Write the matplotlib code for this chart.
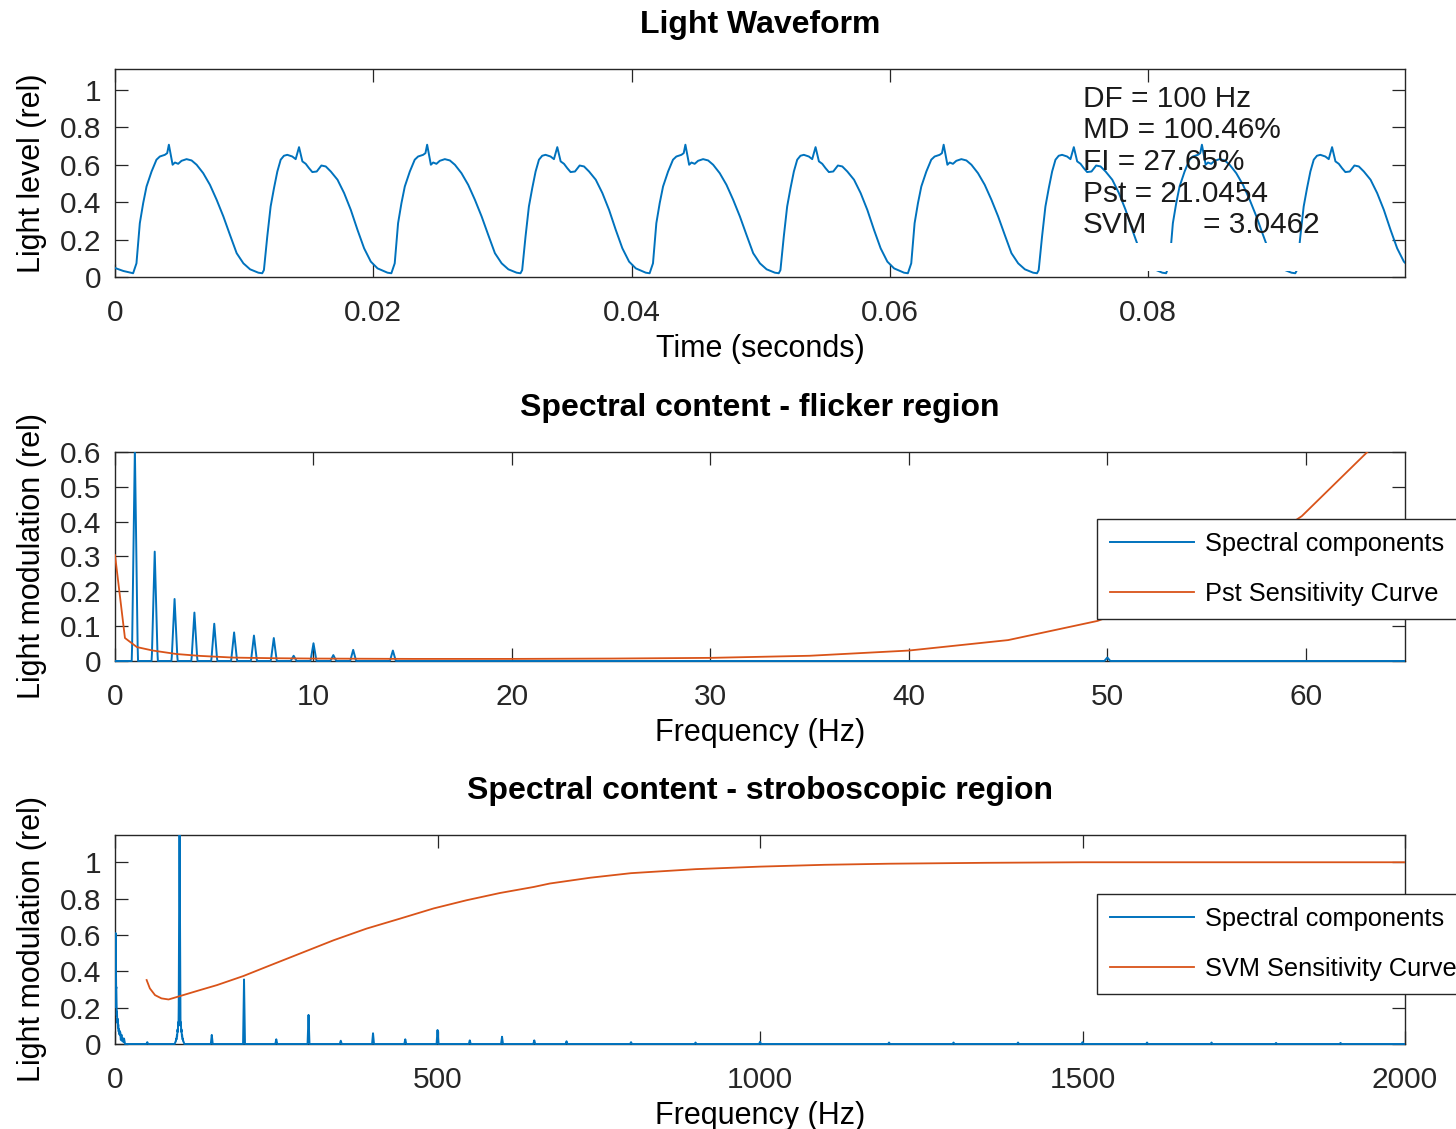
import numpy as np
import matplotlib
matplotlib.use("Agg")
import matplotlib.pyplot as plt
from matplotlib.patches import Rectangle

plt.rcParams['font.family'] = ['Liberation Sans', 'DejaVu Sans']

# ---------------- data ----------------
# Light waveform: two cycle shapes (relative time from cycle minimum, level)
a_t = [0, 0.00026, 0.00052, 0.00078, 0.00104, 0.00143, 0.00181, 0.00207, 0.00246, 0.00264,
       0.00277, 0.00306, 0.00324, 0.00349, 0.00375, 0.00414, 0.00453, 0.00492, 0.00543,
       0.00595, 0.00647, 0.00699, 0.0075, 0.00802, 0.00854, 0.00906, 0.0097]
a_v = [0.02, 0.073, 0.287, 0.394, 0.483, 0.563, 0.626, 0.643, 0.652, 0.661,
       0.706, 0.599, 0.611, 0.604, 0.620, 0.629, 0.622, 0.599, 0.554,
       0.492, 0.412, 0.323, 0.225, 0.127, 0.073, 0.041, 0.023]
b_t = [0, 0.00013, 0.00039, 0.00065, 0.00091, 0.00117, 0.00143, 0.00168, 0.00194, 0.00233,
       0.00259, 0.00285, 0.00311, 0.00337, 0.00362, 0.00388, 0.00422, 0.00458, 0.00492,
       0.00531, 0.00583, 0.00634, 0.00686, 0.00738, 0.00789, 0.00841, 0.00893, 0.0097]
b_v = [0.02, 0.037, 0.216, 0.376, 0.474, 0.563, 0.626, 0.647, 0.652, 0.643,
       0.629, 0.693, 0.617, 0.604, 0.581, 0.56, 0.563, 0.595, 0.59,
       0.563, 0.519, 0.448, 0.358, 0.251, 0.153, 0.082, 0.046, 0.023]
lead_t = [0.0, 0.00065]
lead_v = [0.048, 0.032]
cycle_starts = [0.0014, 0.0114, 0.0214, 0.0314, 0.0414, 0.0514, 0.0614, 0.0714, 0.0814, 0.0914]
cycle_shapes = ['A', 'B', 'A', 'B', 'A', 'B', 'A', 'B', 'A', 'B']

metrics = ["DF = 100 Hz", "MD = 100.46%", "FI = 27.65%", "Pst = 21.0454"]
svm_name = "SVM"
svm_value = "= 3.0462"

# Spectral components (Hz, relative modulation)
low_freq = [1, 2, 3, 4, 5, 6, 7, 8, 9, 10, 11, 12, 14]
low_amp = [0.61, 0.314, 0.178, 0.139, 0.107, 0.082, 0.073, 0.066, 0.015, 0.051, 0.017, 0.032, 0.03]
side_freq = [94, 95, 96, 97, 98, 99, 101, 102, 103, 104, 105, 106]
side_amp = [0.015, 0.03, 0.05, 0.08, 0.12, 0.19, 0.19, 0.12, 0.08, 0.05, 0.03, 0.015]
harm_freq = [50, 100, 150, 200, 250, 300, 350, 400, 450, 500, 550, 600, 650, 700,
             800, 900, 1000, 1200, 1300, 1400, 1500, 1600, 1700, 1800, 1900]
harm_amp = [0.01, 1.25, 0.05, 0.355, 0.026, 0.16, 0.018, 0.059, 0.026, 0.077, 0.02, 0.04, 0.02, 0.015,
            0.01, 0.008, 0.012, 0.008, 0.008, 0.008, 0.01, 0.008, 0.008, 0.006, 0.006]

# Pst sensitivity curve
pst_f = [0, 0.5, 1.1, 1.9, 3.1, 4.3, 6, 8, 10, 15, 20, 25, 30, 35, 40, 45, 49.5, 55, 59.8, 63.1, 65]
pst_v = [0.304, 0.066, 0.04, 0.03, 0.02, 0.0146, 0.0097, 0.008, 0.007, 0.006, 0.006, 0.007,
         0.009, 0.015, 0.03, 0.06, 0.115, 0.23, 0.416, 0.6, 0.7]

# SVM sensitivity curve
svm_f = [49, 54, 62, 72, 83, 101, 132, 158, 199, 235, 287, 339, 390, 442, 494, 545, 597, 649,
         674, 737, 800, 900, 1000, 1100, 1200, 1350, 1500, 2000]
svm_v = [0.352, 0.306, 0.269, 0.251, 0.245, 0.264, 0.297, 0.324, 0.374, 0.425, 0.498, 0.571,
         0.635, 0.69, 0.746, 0.791, 0.831, 0.864, 0.883, 0.915, 0.94, 0.962, 0.976, 0.986,
         0.992, 0.997, 1.0, 1.0]

BLUE = '#0072BD'
ORANGE = '#D95319'
AX_COL = '#262626'

# ---------------- helpers ----------------
def build_waveform():
    t = list(lead_t)
    v = list(lead_v)
    for t0, s in zip(cycle_starts, cycle_shapes):
        ct, cv = (a_t, a_v) if s == 'A' else (b_t, b_v)
        t += [t0 + x for x in ct]
        v += list(cv)
    return np.array(t), np.array(v)


def spectrum_line(fmax, step, hw):
    freqs = low_freq + side_freq + harm_freq
    amps = low_amp + side_amp + harm_amp
    f = np.arange(0, fmax + step, step)
    s = np.zeros_like(f)
    for fc, a in zip(freqs, amps):
        if fc - hw > fmax:
            continue
        s = np.maximum(s, a * np.clip(1 - np.abs(f - fc) / hw, 0, None))
    return f, s


def style_axes(ax):
    for sp in ax.spines.values():
        sp.set_color(AX_COL)
        sp.set_linewidth(1.0)
        sp.set_zorder(0.5)
    ax.tick_params(direction='in', length=9.5, width=0.9, colors=AX_COL,
                   top=True, right=True, labelsize=21.5)
    ax.tick_params(axis='y', pad=10)
    ax.tick_params(axis='x', pad=16)
    for lab in ax.get_xticklabels() + ax.get_yticklabels():
        lab.set_color('#262626')


def lbl(vals):
    return ['%g' % v for v in vals]


def make_legend(ax, handles, labels, anchor_y):
    leg = ax.legend(handles, labels, loc='upper left', bbox_to_anchor=(0.7612, anchor_y),
                    borderaxespad=0, fancybox=False, framealpha=1, edgecolor=AX_COL,
                    fontsize=18.3, handlelength=3.3, handletextpad=0.45, borderpad=0.5,
                    labelspacing=1.03)
    leg.get_frame().set_linewidth(1.0)
    return leg


fig = plt.figure(figsize=(14.56, 11.29), dpi=100)

L, W = 0.0790, 0.8860
ax1 = fig.add_axes([L, 0.75465, W, 0.18423])
ax2 = fig.add_axes([L, 0.41453, W, 0.18512])
ax3 = fig.add_axes([L, 0.07529, W, 0.18512])

# ---- Panel 1: waveform ----
t, v = build_waveform()
ax1.plot(t, v, color=BLUE, lw=1.4, zorder=2, solid_joinstyle='round')
ax1.set_xlim(0, 0.0999)
ax1.set_ylim(0, 1.11)
xt1 = [0, 0.02, 0.04, 0.06, 0.08]
yt1 = [0, 0.2, 0.4, 0.6, 0.8, 1]
ax1.set_xticks(xt1, lbl(xt1))
ax1.set_yticks(yt1, lbl(yt1))
style_axes(ax1)
ax1.set_title('Light Waveform', fontsize=23, fontweight='bold', pad=26)
ax1.set_xlabel('Time (seconds)', fontsize=22, labelpad=5)
ax1.set_ylabel('Light level (rel)', fontsize=22, labelpad=9)

ax1.add_patch(Rectangle((0.750, 0.0288), 0.2035, 0.1347, transform=ax1.transAxes,
                        facecolor='white', edgecolor='none', zorder=3))
line_y = [0.858, 0.705, 0.551, 0.397]
for txt, yy in zip(metrics, line_y):
    ax1.text(0.7504, yy, txt, transform=ax1.transAxes, fontsize=21.4, va='center',
             ha='left', color='#1a1a1a', zorder=4)
ax1.text(0.7504, 0.250, svm_name, transform=ax1.transAxes, fontsize=21.4, va='center',
         ha='left', color='#1a1a1a', zorder=4)
ax1.text((1203 - 115) / 1290, 0.250, svm_value, transform=ax1.transAxes, fontsize=21.4,
         va='center', ha='left', color='#1a1a1a', zorder=4)

# ---- Panel 2: flicker region ----
f2, s2 = spectrum_line(65, 0.02, 0.15)
h1, = ax2.plot(f2, s2, color=BLUE, lw=1.4, zorder=2)
h1.set_clip_path(Rectangle((0, -0.03), 1, 1.03, transform=ax2.transAxes))
h2, = ax2.plot(pst_f, pst_v, color=ORANGE, lw=1.3, zorder=2.1)
ax2.set_xlim(0, 65)
ax2.set_ylim(0, 0.6)
xt2 = [0, 10, 20, 30, 40, 50, 60]
yt2 = [0, 0.1, 0.2, 0.3, 0.4, 0.5, 0.6]
ax2.set_xticks(xt2, lbl(xt2))
ax2.set_yticks(yt2, lbl(yt2))
style_axes(ax2)
ax2.set_title('Spectral content - flicker region', fontsize=23, fontweight='bold', pad=26)
ax2.set_xlabel('Frequency (Hz)', fontsize=22, labelpad=5)
ax2.set_ylabel('Light modulation (rel)', fontsize=22, labelpad=9)
make_legend(ax2, [h1, h2], ['Spectral components', 'Pst Sensitivity Curve'], 0.6794)

# ---- Panel 3: stroboscopic region ----
f3, s3 = spectrum_line(2000, 0.25, 1.5)
g1, = ax3.plot(f3, s3, color=BLUE, lw=1.4, zorder=2)
g1.set_clip_path(Rectangle((0, -0.03), 1, 1.03, transform=ax3.transAxes))
g2, = ax3.plot(svm_f, svm_v, color=ORANGE, lw=1.3, zorder=2.1)
ax3.set_xlim(0, 2000)
ax3.set_ylim(0, 1.15)
xt3 = [0, 500, 1000, 1500, 2000]
yt3 = [0, 0.2, 0.4, 0.6, 0.8, 1]
ax3.set_xticks(xt3, lbl(xt3))
ax3.set_yticks(yt3, lbl(yt3))
style_axes(ax3)
ax3.set_title('Spectral content - stroboscopic region', fontsize=23, fontweight='bold', pad=26)
ax3.set_xlabel('Frequency (Hz)', fontsize=22, labelpad=5)
ax3.set_ylabel('Light modulation (rel)', fontsize=22, labelpad=9)
make_legend(ax3, [g1, g2], ['Spectral components', 'SVM Sensitivity Curve'], 0.7177)

fig.savefig('out.png', dpi=100, facecolor='white')
